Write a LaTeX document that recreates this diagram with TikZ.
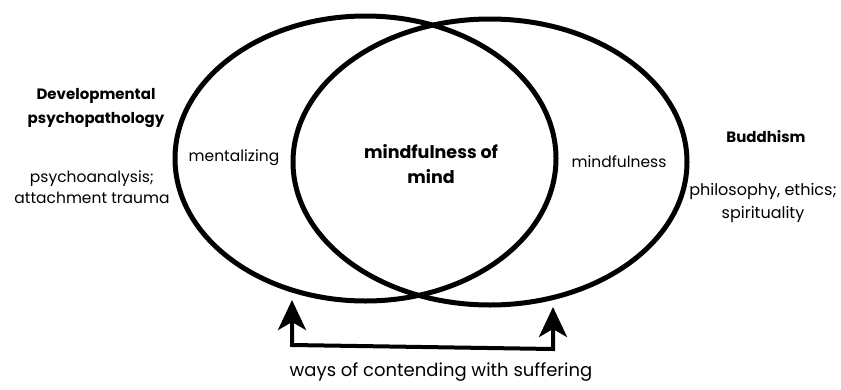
\documentclass[tikz,border=0pt]{standalone}
\usepackage{fontspec}
\setmainfont{Poppins}
\usetikzlibrary{shapes.geometric,arrows.meta}
\tikzset{
  circ/.style={draw, ellipse, line width=5pt, inner sep=0pt},
  lbl/.style={align=center, font=\fontsize{15.5}{21}\selectfont, inner sep=0pt},
  head/.style={align=center, font=\bfseries\fontsize{15}{24}\selectfont, inner sep=0pt},
  conn/.style={line width=4pt, {Stealth[length=30pt,width=28pt,inset=8pt]}-{Stealth[length=30pt,width=28pt,inset=8pt]}}
}
\begin{document}
\begin{tikzpicture}[x=1pt,y=-1pt]
\useasboundingbox (0,0) rectangle (841,389);
\node[circ, minimum width=381pt, minimum height=285pt] (L) at (365.5,158.5) {};
\node[circ, minimum width=394pt, minimum height=286pt] (R) at (490,162) {};
\node[head] (dev) at (96,108) {Developmental\\psychopathology};
\node[lbl] (psy) at (92,187) {psychoanalysis;\\attachment trauma};
\node[lbl] (ment) at (234,158) {mentalizing};
\node[head, font=\bfseries\fontsize{17.5}{25}\selectfont] (mom) at (431,164) {mindfulness of\\mind};
\node[lbl] (mind) at (619,162) {mindfulness};
\node[head] (bud) at (766,137) {Buddhism};
\node[lbl, font=\fontsize{16}{23}\selectfont] (phil) at (763,203) {philosophy, ethics;\\spirituality};
\coordinate (la) at (292,300);
\coordinate (lb) at (292,345);
\coordinate (rb) at (553,349);
\coordinate (ra) at (553,307);
\draw[conn, line join=miter] (la) -- (lb) -- (rb) -- (ra);
\node[lbl, font=\fontsize{18}{22}\selectfont] (ways) at (441,372) {ways of contending with suffering};
\end{tikzpicture}
\end{document}
